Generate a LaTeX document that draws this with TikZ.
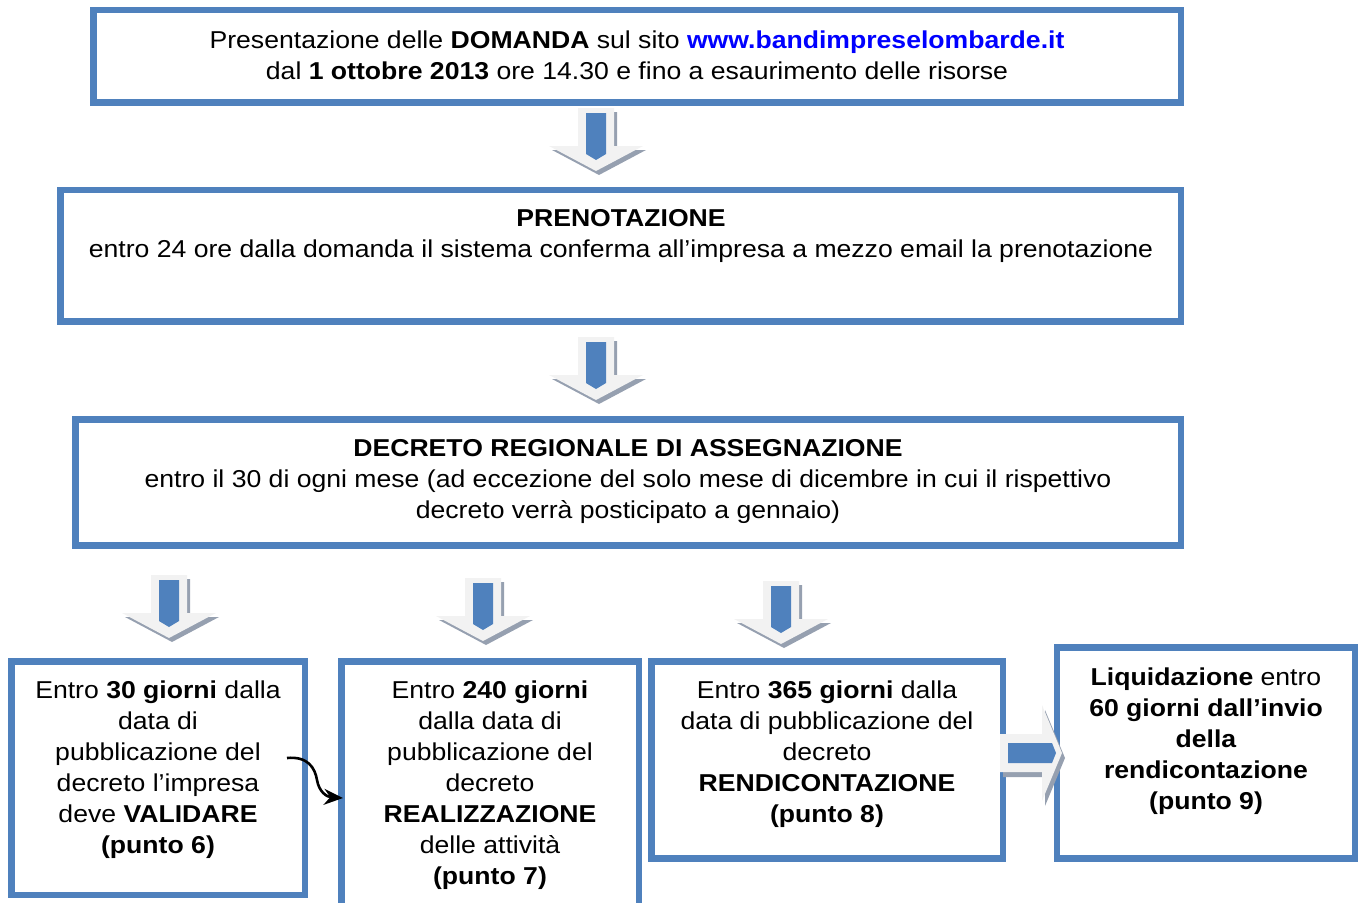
\documentclass[tikz,border=0pt]{standalone}
\usepackage{fontspec}
\setmainfont{Liberation Sans}[FakeStretch=1.09]
\usetikzlibrary{arrows.meta}
\definecolor{boxblue}{RGB}{79,129,189}
\definecolor{linkblue}{RGB}{0,0,255}
\definecolor{arrlight}{RGB}{242,242,242}
\definecolor{arrshadow}{RGB}{150,160,176}
\newcommand\fs{\fontsize{24.4}{31}\selectfont}
\tikzset{
  box/.style={draw=boxblue, line width=6.5pt, rectangle, inner sep=0pt, fill=none},
  txt/.style={anchor=north, inner sep=0pt, align=center, font=\fs},
  darrow/.pic={
    \fill[arrshadow, shift={(3,4)}] (-18,0) -- (18,0) -- (18,38) -- (47,38) -- (0,63) -- (-47,38) -- (-18,38) -- cycle;
    \fill[arrlight] (-18,0) -- (18,0) -- (18,38) -- (47,38) -- (0,63) -- (-47,38) -- (-18,38) -- cycle;
    \fill[boxblue] (-10,5) -- (10,5) -- (10,46) -- (0,52) -- (-10,46) -- cycle;
  },
  rarrow/.pic={
    \fill[arrshadow, shift={(3,5)}] (0,-19) -- (42,-19) -- (42,-48) -- (62,0) -- (42,48) -- (42,19) -- (0,19) -- cycle;
    \fill[arrlight] (0,-19) -- (42,-19) -- (42,-48) -- (62,0) -- (42,48) -- (42,19) -- (0,19) -- cycle;
    \fill[boxblue] (8,-10) -- (52,-10) -- (56,0) -- (52,10) -- (8,10) -- cycle;
  }
}
\begin{document}
\begin{tikzpicture}[x=1pt,y=-1pt]
\useasboundingbox (0,0) rectangle (1362,902);
% boxes
\node[box, minimum width=1087.5pt, minimum height=92.5pt] (b1) at (637.25,56.25) {};
\node[box, minimum width=1120.5pt, minimum height=131.5pt] (b2) at (620.75,255.75) {};
\node[box, minimum width=1105.5pt, minimum height=126pt] (b3) at (628.25,482.5) {};
\node[box, minimum width=293.5pt, minimum height=233.5pt] (b4) at (158.25,778.25) {};
\node[box, minimum width=297.5pt, minimum height=268.5pt] (b5) at (490.25,795.75) {};
\node[box, minimum width=351.5pt, minimum height=197pt] (b6) at (827.25,760) {};
\node[box, minimum width=298pt, minimum height=211pt] (b7) at (1206,753) {};
% texts
\node[txt] (t1) at (637,31) {Presentazione delle \textbf{DOMANDA} sul sito \textbf{\textcolor{linkblue}{www.bandimpreselombarde.it}}\\dal \textbf{1 ottobre 2013} ore 14.30 e fino a esaurimento delle risorse};
\node[txt] (t2) at (621,209) {\textbf{PRENOTAZIONE}\\entro 24 ore dalla domanda il sistema conferma all’impresa a mezzo email la prenotazione};
\node[txt] (t3) at (628,439) {\textbf{DECRETO REGIONALE DI ASSEGNAZIONE}\\entro il 30 di ogni mese (ad eccezione del solo mese di dicembre in cui il rispettivo\\decreto verrà posticipato a gennaio)};
\node[txt] (t4) at (158,681) {Entro \textbf{30 giorni} dalla\\data di\\pubblicazione del\\decreto l’impresa\\deve \textbf{VALIDARE}\\\textbf{(punto 6)}};
\node[txt] (t5) at (490,681) {Entro \textbf{240 giorni}\\dalla data di\\pubblicazione del\\decreto\\\textbf{REALIZZAZIONE}\\delle attività\\\textbf{(punto 7)}};
\node[txt] (t6) at (827,681) {Entro \textbf{365 giorni} dalla\\data di pubblicazione del\\decreto\\\textbf{RENDICONTAZIONE}\\\textbf{(punto 8)}};
\node[txt] (t7) at (1206,668) {\textbf{Liquidazione} entro\\\textbf{60 giorni dall’invio}\\\textbf{della}\\\textbf{rendicontazione}\\\textbf{(punto 9)}};
% block arrows
\pic at (596,108) {darrow};
\pic at (596,337) {darrow};
\pic at (169,575) {darrow};
\pic at (483,578) {darrow};
\pic at (781,581) {darrow};
\pic at (1000,753) {rarrow};
% curved arrow
\coordinate (cs) at (287,758);
\coordinate (ce) at (343,798);
\draw[line width=2.6pt, -{Stealth[length=19pt,width=16pt]}] (cs) .. controls (308,756) and (315,768) .. (317,780) .. controls (319,792) and (327,797) .. (ce);
\end{tikzpicture}
\end{document}
